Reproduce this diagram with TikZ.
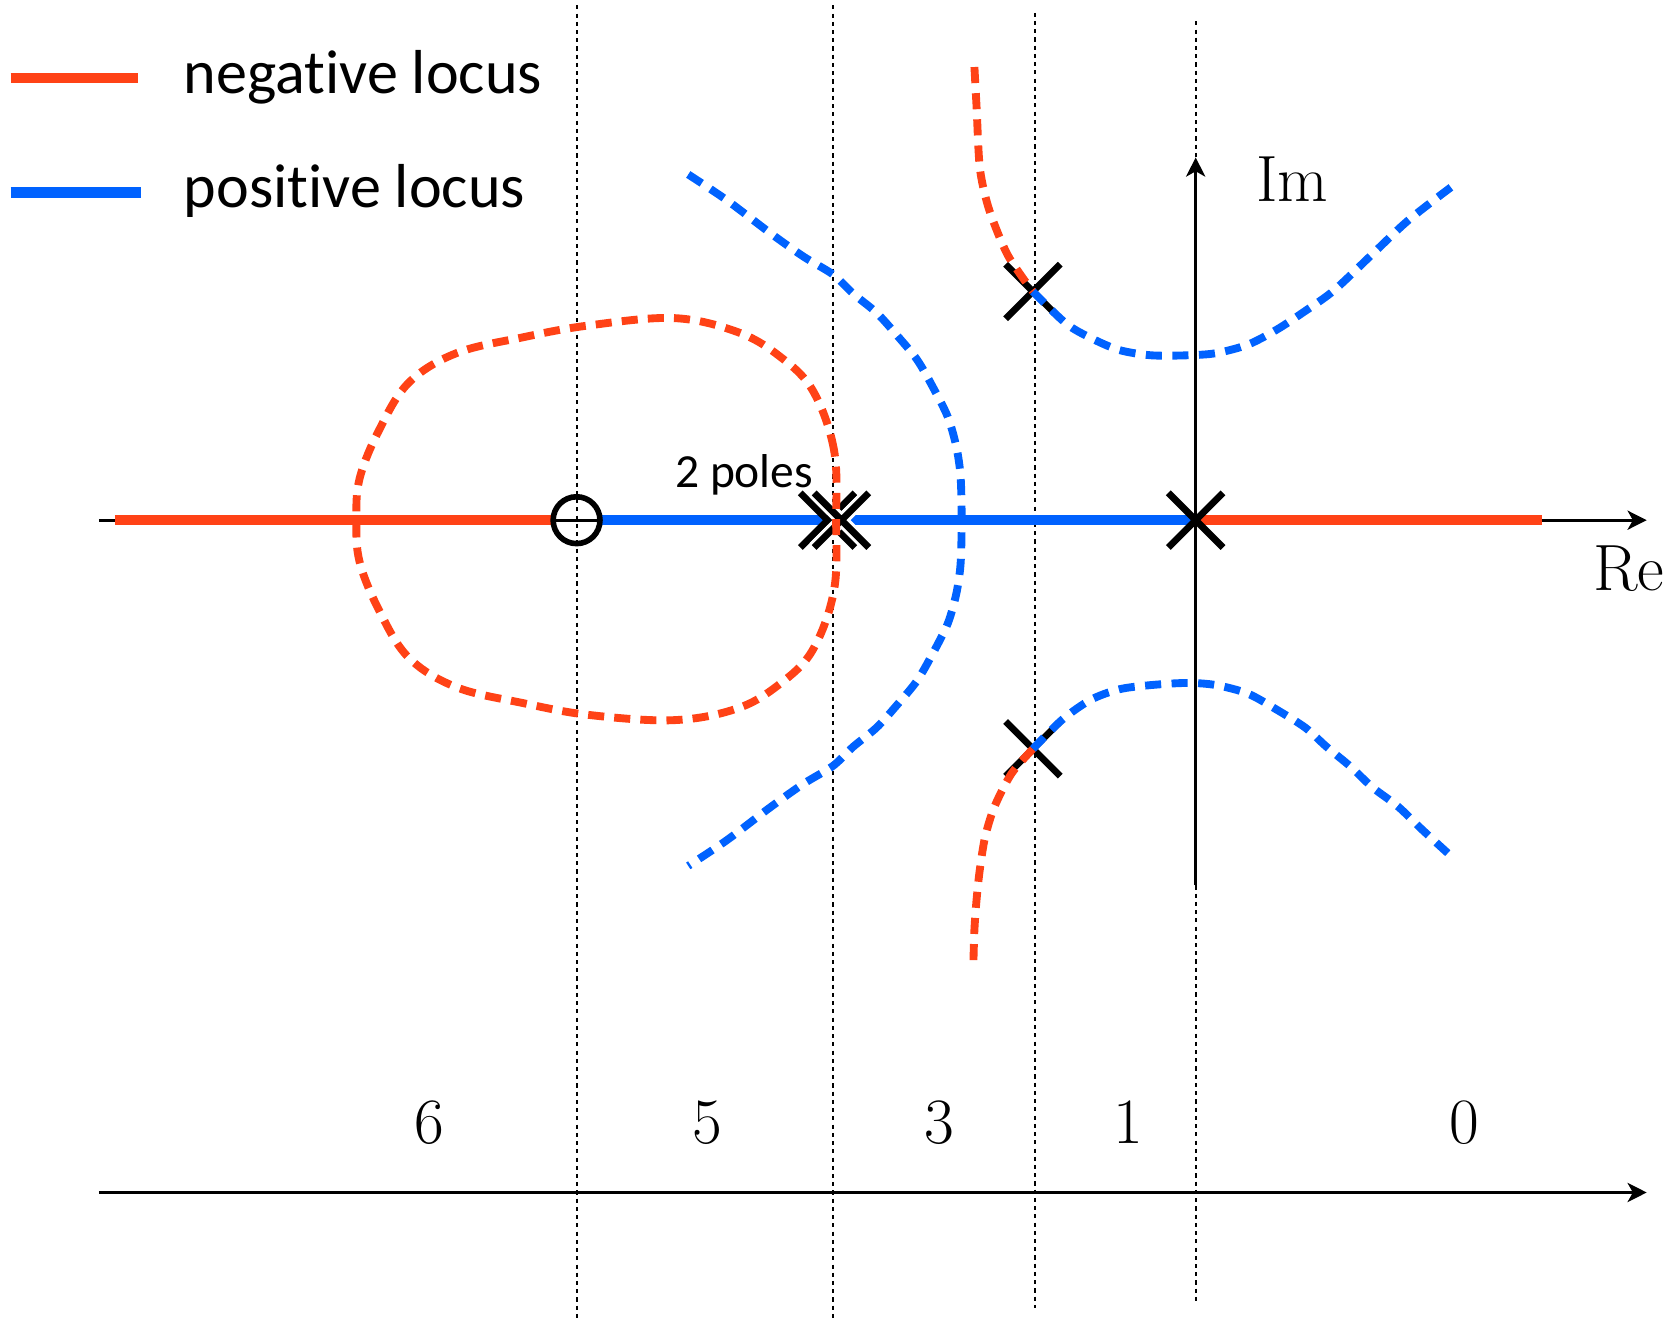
\documentclass[tikz,border=0pt]{standalone}
\usepackage{fontspec}
\newfontfamily\legfont[Ligatures=NoCommon]{Carlito}
\usetikzlibrary{arrows.meta,positioning,shapes.misc}
\definecolor{locred}{RGB}{255,66,22}
\definecolor{locblue}{RGB}{0,98,255}
\tikzset{
  negloc/.style={locred, line width=2.7pt},
  posloc/.style={locblue, line width=2.7pt},
  negdash/.style={locred, line width=2.1pt, dash pattern=on 4.3pt off 2.7pt},
  posdash/.style={locblue, line width=2.1pt, dash pattern=on 4.3pt off 2.8pt},
  axarr/.style={-{Stealth[length=1.8mm, width=1.8mm, inset=0.5mm]}, line width=0.75pt},
  sep/.style={line width=0.5pt, dash pattern=on 1.1pt off 1.1pt},
  polemark/.style={cross out, draw, line width=1.8pt, minimum size=0.45cm, inner sep=0pt},
  halo/.style={preaction={draw=white, line width=3.4pt}},
  zeromark/.style={circle, draw, line width=1.5pt, minimum size=0.44cm, inner sep=0pt},
  legtxt/.style={font=\legfont\fontsize{16.6}{19}\selectfont, inner sep=0pt},
  notetxt/.style={font=\legfont\fontsize{12.7}{15}\selectfont, inner sep=0pt},
  mlab/.style={font=\fontsize{17.5}{20}\selectfont, inner sep=0pt},
}

\begin{document}
\begin{tikzpicture}[x=0.01cm, y=-0.01cm]
  \useasboundingbox (0,0) rectangle (1568,1242);
  % region borders
  \foreach \x/\t/\b in {542/5/1242, 783/5/1242, 973/12/1230, 1124/20/1225}
    \draw[sep] (\x,\t) -- (\x,\b);

  % legend
  \node[legtxt, anchor=base west] (negtxt) at (172,88) {negative locus};
  \node[legtxt, anchor=base west] (postxt) at (172,195) {positive locus};
  \draw[negloc] (10,73) -- (130,73);
  \draw[posloc] (10,181) -- (133,181);

  % axes
  \coordinate (reW) at (93,489);
  \coordinate (reE) at (1548,489);
  \coordinate (imS) at (1124,832);
  \coordinate (imN) at (1124,148);
  \coordinate (cntW) at (93,1121);
  \coordinate (cntE) at (1548,1121);
  \draw[axarr] (reW) -- (reE);
  \draw[axarr] (cntW) -- (cntE);
  \node[mlab, anchor=base west] (imlab) at (1180,189) {$\mathrm{Im}$};
  \node[mlab, anchor=base west] (relab) at (1497,555) {$\mathrm{Re}$};

  % real-axis loci
  \coordinate (zero) at (542,489);
  \coordinate (orig) at (1124,489);
  \draw[negloc] (108,489) -- ([xshift=-0.21cm]zero);
  \draw[posloc] ([xshift=0.21cm]zero) -- (orig);
  \draw[negloc] (orig) -- (1450,489);
  \draw[axarr] (imS) -- (imN);

  % zero and poles
  \node[zeromark] (z) at (zero) {};
  \node[polemark] (pa) at (778,489) {};
  \node[polemark, halo] (pb) at (791,489) {};
  \node[polemark] (p0) at (orig) {};
  \node[polemark] (pu) at (971,274) {};
  \node[polemark] (pl) at (971,704) {};
  \node[notetxt, anchor=base west] (twop) at (634,458) {2 poles};

  % complex loci
  \draw[negdash] plot[smooth cycle, tension=0.6] coordinates {
    (786,489) (784,423) (764,367) (733,335) (693,312) (633,299) (553,306)
    (492,317) (429,332) (384,360) (356,405) (338,450) (335,489)
    (338,528) (356,573) (384,618) (429,646) (492,661) (553,672) (633,677)
    (693,666) (733,643) (764,611) (784,555)};
  \draw[negdash] plot[smooth] coordinates {(916,63) (918,100) (921,157)
    (928,191) (938,219) (948,241) (962,262) (pu)};
  \draw[negdash] plot[smooth] coordinates {(pl) (951,727) (935,758)
    (926,787) (921,818) (918,846) (916,874) (915,907)};
  \draw[posdash] plot[smooth] coordinates {(pu) (1002,304) (1026,318)
    (1052,329) (1082,334) (1116,334) (1143,332) (1173,324) (1200,310)
    (1226,293) (1254,273) (1291,238) (1324,207) (1364,176)};
  \draw[posdash] plot[smooth] coordinates {(pl) (998,677) (1025,658)
    (1052,648) (1082,644) (1116,642) (1143,644) (1173,652) (1200,667)
    (1227,684) (1247,702) (1270,721) (1290,740) (1314,758) (1337,780)
    (1361,802)};
  \draw[posdash] plot[smooth] coordinates {(647,164) (683,188) (724,219)
    (755,241) (783,258) (802,276) (824,294) (843,315) (862,338) (877,364)
    (891,392) (899,420) (903,448) (904,489) (903,530) (899,558) (891,586)
    (877,614) (862,640) (843,663) (824,684) (802,702) (783,720) (755,737)
    (724,759) (683,790) (647,814)};

  % pole counts to the right
  \foreach \x/\n in {404/6, 665/5, 883/3, 1061/1, 1377/0}
    \node[mlab, anchor=base] (cnt\n) at (\x,1075) {$\n$};
\end{tikzpicture}
\end{document}
